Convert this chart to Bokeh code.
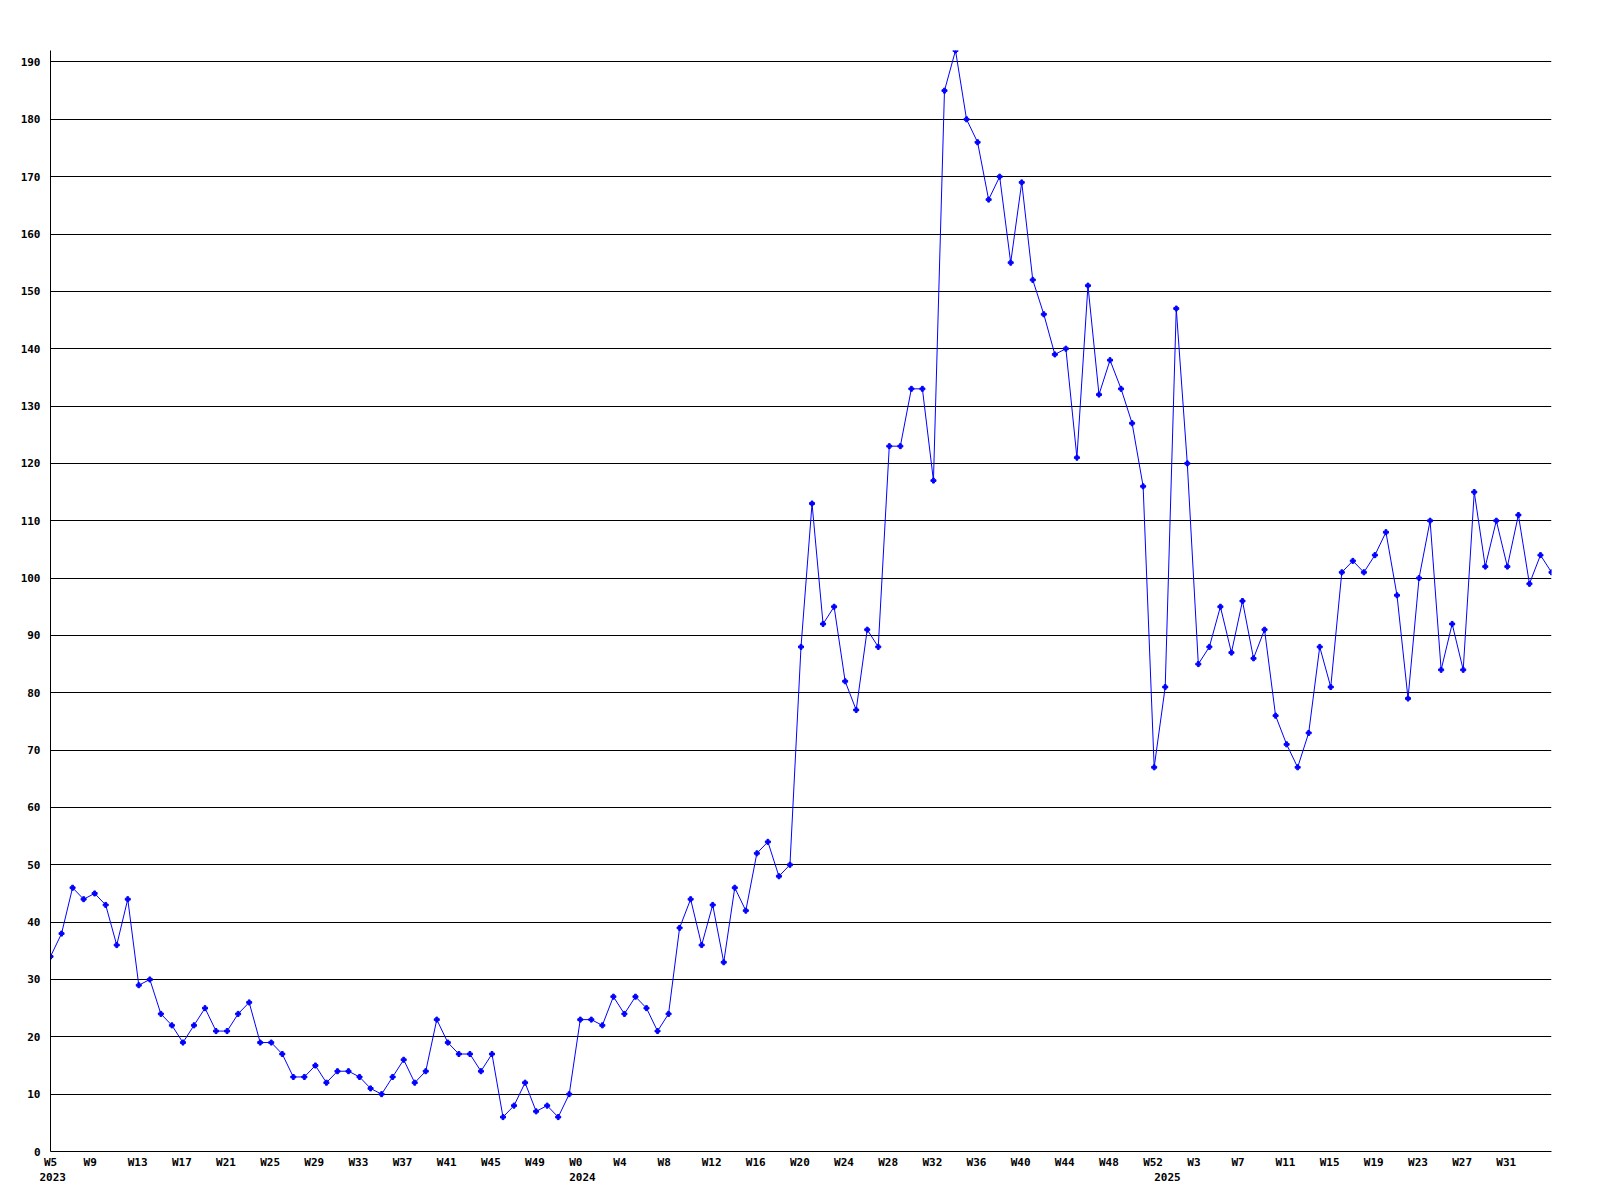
from bokeh.plotting import figure
from bokeh.models import Range1d, FixedTicker, LinearAxis, ColumnDataSource, Grid
from bokeh.embed import file_html
from bokeh.resources import INLINE

# ---- data ----
weeks_2023 = list(range(5, 53))
weeks_2024 = list(range(0, 53))
weeks_2025 = list(range(0, 36))

values_2023 = [34, 38, 46, 44, 45, 43, 36, 44, 29, 30, 24, 22, 19, 22, 25, 21, 21, 24, 26, 19,
               19, 17, 13, 13, 15, 12, 14, 14, 13, 11, 10, 13, 16, 12, 14, 23, 19, 17, 17, 14,
               17, 6, 8, 12, 7, 8, 6, 10]
values_2024 = [23, 23, 22, 27, 24, 27, 25, 21, 24, 39, 44, 36, 43, 33, 46, 42, 52, 54, 48, 50,
               88, 113, 92, 95, 82, 77, 91, 88, 123, 123, 133, 133, 117, 185, 192, 180, 176, 166,
               170, 155, 169, 152, 146, 139, 140, 121, 151, 132, 138, 133, 127, 116, 67]
values_2025 = [81, 147, 120, 85, 88, 95, 87, 96, 86, 91, 76, 71, 67, 73, 88, 81, 101, 103, 101,
               104, 108, 97, 79, 100, 110, 84, 92, 84, 115, 102, 110, 102, 111, 99, 104, 101]

year_labels = ["2023", "2024", "2025"]
y_ticks = list(range(0, 200, 10))

# ---- build series ----
labels = ([("2023", w) for w in weeks_2023] + [("2024", w) for w in weeks_2024]
          + [("2025", w) for w in weeks_2025])
values = values_2023 + values_2024 + values_2025
xs = list(range(len(values)))
src = ColumnDataSource(dict(x=xs, y=values, week=["W%d" % w for _, w in labels]))

FONT = "DejaVu Sans Mono"
FONT_PX = 11
CHAR_W = 0.602 * FONT_PX          # monospace advance
FRAME_W, FRAME_H = 1501, 1101
N = len(values)
PX_PER_IDX = FRAME_W / (N - 1)
LABEL_SHIFT = -1.0                # labels start one step left of their point


def label_center(i, text):
    c = i + LABEL_SHIFT + (len(text) * CHAR_W / 2) / PX_PER_IDX
    return max(0.0, c)


p = figure(frame_width=FRAME_W, frame_height=FRAME_H, output_backend="svg", toolbar_location=None,
           x_range=Range1d(0, N - 1), y_range=Range1d(0, max(values)),
           min_border_left=50, min_border_top=50, min_border_right=41, min_border_bottom=41,
           x_axis_type=None, y_axis_type=None)
p.outline_line_color = None
p.background_fill_color = "white"
p.border_fill_color = "white"


def style_axis(ax, standoff):
    ax.major_tick_line_color = None
    ax.minor_tick_line_color = None
    ax.major_tick_out = 0
    ax.major_tick_in = 0
    ax.major_label_standoff = standoff
    ax.major_label_text_font = FONT
    ax.major_label_text_font_style = "bold"
    ax.major_label_text_font_size = "%dpx" % FONT_PX
    ax.major_label_text_color = "black"


# y axis
yax = LinearAxis(ticker=FixedTicker(ticks=y_ticks))
style_axis(yax, 10)
yax.axis_line_color = "black"
p.add_layout(yax, "left")

# week axis
week_idx = list(range(0, N - 1, 4))
week_text = [src.data["week"][i] for i in week_idx]
week_ticks = [label_center(i, t) for i, t in zip(week_idx, week_text)]
xax = LinearAxis(ticker=FixedTicker(ticks=week_ticks))
xax.major_label_overrides = {t: s for t, s in zip(week_ticks, week_text)}
style_axis(xax, 4)
xax.axis_line_color = "black"
p.add_layout(xax, "below")

# year axis
year_col = [l[0] for l in labels]
year_idx = [year_col.index(y) for y in year_labels]
year_ticks = [label_center(i, y) for i, y in zip(year_idx, year_labels)]
yrax = LinearAxis(ticker=FixedTicker(ticks=year_ticks))
yrax.major_label_overrides = {t: y for t, y in zip(year_ticks, year_labels)}
style_axis(yrax, 1)
yrax.axis_line_color = None
p.add_layout(yrax, "below")

# horizontal grid
grid = Grid(dimension=1, ticker=FixedTicker(ticks=y_ticks[1:]),
            grid_line_color="black", grid_line_width=1)
p.add_layout(grid)

p.line("x", "y", source=src, line_color="#0000FF", line_width=1)
p.scatter("x", "y", source=src, marker="plus", size=5, fill_color="#0000FF", line_color="#0000FF")

open("out.html", "w").write(file_html(p, INLINE))
